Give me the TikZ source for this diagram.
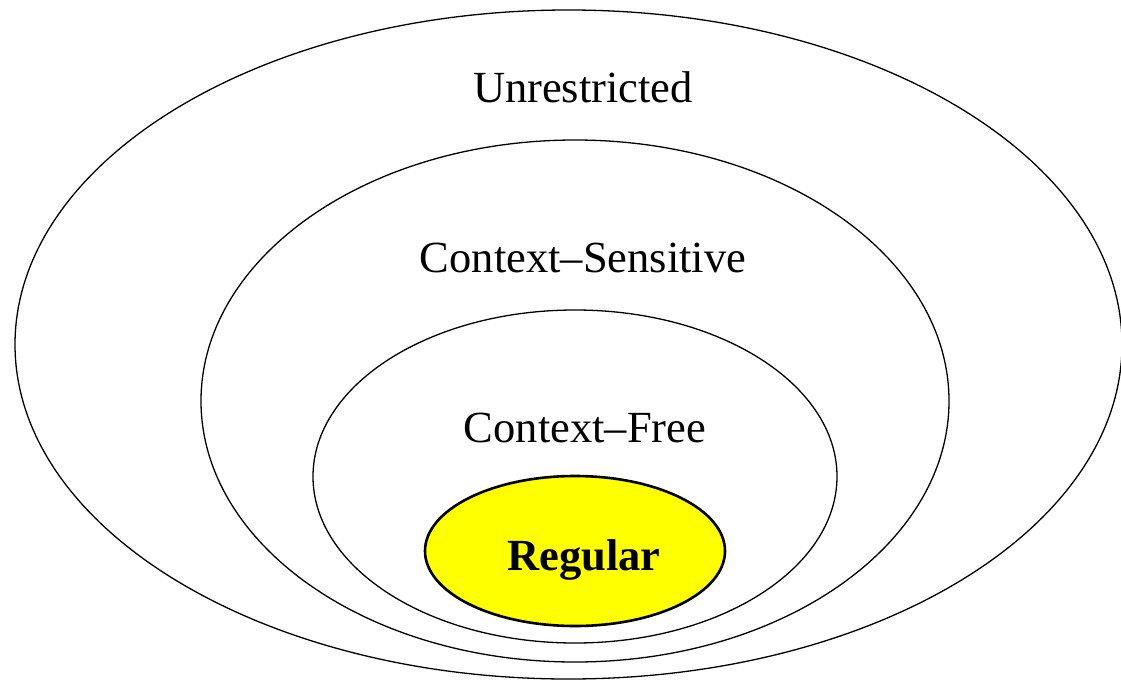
\documentclass[tikz,border=0pt]{standalone}
\usepackage{fontspec}
\setmainfont{Liberation Serif}
\usetikzlibrary{shapes.geometric}
\definecolor{regyellow}{RGB}{255,255,0}
\tikzset{
  set/.style={ellipse, draw=black, line width=1.3pt, inner sep=0pt},
  regset/.style={ellipse, draw=black, fill=regyellow, line width=2.6pt, inner sep=0pt},
  lbl/.style={anchor=base, inner sep=0pt, font=\fontsize{44.5}{50}\selectfont},
}
\begin{document}
\begin{tikzpicture}[x=1pt,y=-1pt]
\useasboundingbox (0,0) rectangle (1121,680);
\node[set, minimum width=1107pt, minimum height=669pt] (u) at (568.5,344.5) {};
\node[set, minimum width=748pt, minimum height=522pt] (cs) at (575,401) {};
\node[set, minimum width=524pt, minimum height=333pt] (cf) at (575,476.5) {};
\node[regset, minimum width=300pt, minimum height=150pt] (r) at (575,551) {};
\node[lbl] (tu) at (583,102) {Unrestricted};
\node[lbl] (tcs) at (583,272) {Context–Sensitive};
\node[lbl] (tcf) at (585,442) {Context–Free};
\node[lbl, font=\fontsize{44.5}{50}\selectfont\bfseries] (tr) at (584,570) {Regular};
\end{tikzpicture}
\end{document}
